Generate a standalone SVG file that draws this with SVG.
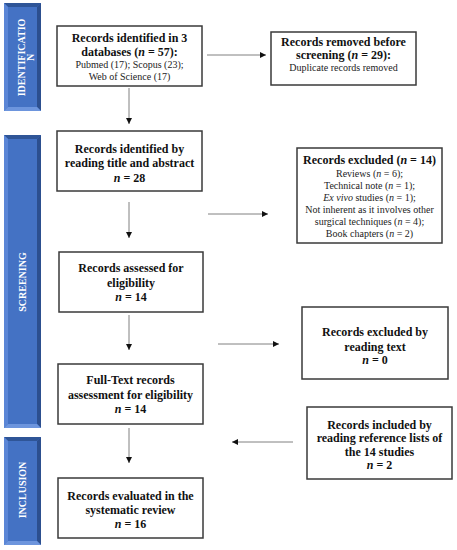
<svg xmlns="http://www.w3.org/2000/svg" width="457" height="550" viewBox="0 0 457 550">
<defs>
<style>
.box{fill:#fff;stroke:#3a3a3a;stroke-width:1.5}
.b{font-family:"Liberation Serif","Times New Roman",serif;font-size:12px;font-weight:bold;fill:#111;text-anchor:middle}
.r{font-family:"Liberation Serif","Times New Roman",serif;font-size:10px;fill:#222;text-anchor:middle}
.side{font-family:"Liberation Serif","Times New Roman",serif;font-size:10px;font-weight:bold;fill:#fff;text-anchor:middle}
.face{fill:#4472c4}
.bt{fill:#2f5597}
.bl{fill:#5b86d6}
.br{fill:#2c4f8f}
.bb{fill:#6d95dd}
.conn line{stroke:#808080;stroke-width:1}
</style>
<marker id="ah" viewBox="0 0 6 6" refX="6" refY="3" markerWidth="6" markerHeight="6" orient="auto" markerUnits="userSpaceOnUse">
<path d="M0,0 L6,3 L0,6 z" fill="#111"/>
</marker>
</defs>
<rect width="457" height="550" fill="#fff"/>

<g id="bar-identification">
<rect class="face" x="4" y="3" width="37" height="108"/>
<polygon class="bt" points="4,3 41,3 37,7 8,7"/>
<polygon class="bl" points="4,3 8,7 8,107 4,111"/>
<polygon class="br" points="41,3 41,111 37,107 37,7"/>
<polygon class="bb" points="4,111 8,107 37,107 41,111"/>
<text class="side" transform="translate(25.3,57.5) rotate(-90)"><tspan x="0" y="0">IDENTIFICATIO</tspan><tspan x="0" y="9">N</tspan></text>
</g>

<g id="bar-screening">
<rect class="face" x="4" y="135" width="37" height="293"/>
<polygon class="bt" points="4,135 41,135 37,139 8,139"/>
<polygon class="bl" points="4,135 8,139 8,424 4,428"/>
<polygon class="br" points="41,135 41,428 37,424 37,139"/>
<polygon class="bb" points="4,428 8,424 37,424 41,428"/>
<text class="side" transform="translate(26.3,282) rotate(-90)">SCREENING</text>
</g>

<g id="bar-inclusion">
<rect class="face" x="4" y="437" width="37" height="108"/>
<polygon class="bt" points="4,437 41,437 37,441 8,441"/>
<polygon class="bl" points="4,437 8,441 8,541 4,545"/>
<polygon class="br" points="41,437 41,545 37,541 37,441"/>
<polygon class="bb" points="4,545 8,541 37,541 41,545"/>
<text class="side" transform="translate(25.8,490) rotate(-90)">INCLUSION</text>
</g>

<g id="identified">
<rect class="box" x="57" y="26" width="145" height="60"/>
<text class="b" x="129.5" y="42">Records identified in 3</text>
<text class="b" x="129.5" y="56">databases (<tspan font-style="italic">n</tspan> = 57):</text>
<text class="r" x="129.5" y="68">Pubmed (17); Scopus (23);</text>
<text class="r" x="129.5" y="80">Web of Science (17)</text>
</g>

<g id="removed">
<rect class="box" x="271" y="32" width="145" height="53"/>
<text class="b" x="343.5" y="46">Records removed before</text>
<text class="b" x="343.5" y="59">screening (<tspan font-style="italic">n</tspan> = 29):</text>
<text class="r" x="343.5" y="71">Duplicate records removed</text>
</g>

<g id="title-abstract">
<rect class="box" x="57" y="131" width="145" height="60"/>
<text class="b" x="129.5" y="153">Records identified by</text>
<text class="b" x="129.5" y="167">reading title and abstract</text>
<text class="b" x="129.5" y="182"><tspan font-style="italic">n</tspan> = 28</text>
</g>

<g id="excluded14">
<rect class="box" x="297" y="148" width="145" height="95"/>
<text class="b" x="369.5" y="164">Records excluded (<tspan font-style="italic">n</tspan> = 14)</text>
<text class="r" x="369.5" y="177">Reviews (<tspan font-style="italic">n</tspan> = 6);</text>
<text class="r" x="369.5" y="189">Technical note (<tspan font-style="italic">n</tspan> = 1);</text>
<text class="r" x="369.5" y="201"><tspan font-style="italic">Ex vivo</tspan> studies (<tspan font-style="italic">n</tspan> = 1);</text>
<text class="r" x="369.5" y="213">Not inherent as it involves other</text>
<text class="r" x="369.5" y="225">surgical techniques (<tspan font-style="italic">n</tspan> = 4);</text>
<text class="r" x="369.5" y="237">Book chapters (<tspan font-style="italic">n</tspan> = 2)</text>
</g>

<g id="assessed">
<rect class="box" x="59" y="252" width="144" height="60"/>
<text class="b" x="131" y="272">Records assessed for</text>
<text class="b" x="131" y="287">eligibility</text>
<text class="b" x="131" y="301"><tspan font-style="italic">n</tspan> = 14</text>
</g>

<g id="excluded-text">
<rect class="box" x="302" y="307" width="146" height="72"/>
<text class="b" x="375" y="336">Records excluded by</text>
<text class="b" x="375" y="351">reading text</text>
<text class="b" x="375" y="364"><tspan font-style="italic">n</tspan> = 0</text>
</g>

<g id="fulltext">
<rect class="box" x="58" y="364" width="145" height="60"/>
<text class="b" x="130.5" y="384">Full-Text records</text>
<text class="b" x="130.5" y="399">assessment for eligibility</text>
<text class="b" x="130.5" y="413"><tspan font-style="italic">n</tspan> = 14</text>
</g>

<g id="included-refs">
<rect class="box" x="307" y="407" width="145" height="72"/>
<text class="b" x="379.5" y="429">Records included by</text>
<text class="b" x="379.5" y="442">reading reference lists of</text>
<text class="b" x="379.5" y="456">the 14 studies</text>
<text class="b" x="379.5" y="469"><tspan font-style="italic">n</tspan> = 2</text>
</g>

<g id="evaluated">
<rect class="box" x="58" y="478" width="145" height="60"/>
<text class="b" x="130.5" y="500">Records evaluated in the</text>
<text class="b" x="130.5" y="514">systematic review</text>
<text class="b" x="130.5" y="528"><tspan font-style="italic">n</tspan> = 16</text>
</g>

<g id="connectors" class="conn">
<line x1="129" y1="88" x2="129" y2="124" marker-end="url(#ah)"/>
<line x1="207" y1="55" x2="266" y2="55" marker-end="url(#ah)"/>
<line x1="129" y1="202" x2="129" y2="238" marker-end="url(#ah)"/>
<line x1="208" y1="214" x2="268" y2="214" marker-end="url(#ah)"/>
<line x1="129" y1="315" x2="129" y2="350" marker-end="url(#ah)"/>
<line x1="218" y1="344" x2="279" y2="344" marker-end="url(#ah)"/>
<line x1="293" y1="442" x2="232" y2="442" marker-end="url(#ah)"/>
<line x1="129" y1="428" x2="129" y2="463" marker-end="url(#ah)"/>
</g>
</svg>
